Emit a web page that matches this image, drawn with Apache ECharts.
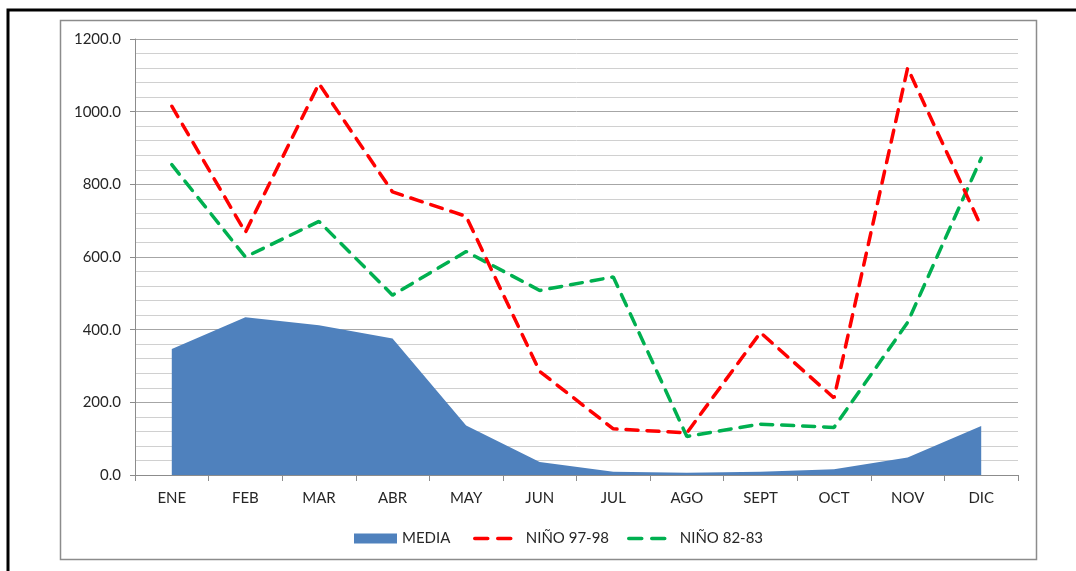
<!DOCTYPE html>
<html>
<head>
<meta charset="utf-8">
<title>Precipitación mensual</title>
<script src="https://cdn.jsdelivr.net/npm/echarts@6/dist/echarts.min.js"></script>
<style>
  html, body { margin: 0; padding: 0; background: #ffffff; }
  #chart { width: 1076px; height: 571px; }
</style>
</head>
<body>
<div id="chart"></div>
<script>
// Months (Spanish abbreviations)
const months = ['ENE', 'FEB', 'MAR', 'ABR', 'MAY', 'JUN', 'JUL', 'AGO', 'SEPT', 'OCT', 'NOV', 'DIC'];

// Monthly mean (area)
const media = [347, 434, 412, 376, 136, 36, 9, 6, 9, 16, 48, 135];

// El Niño 1997-98
const nino9798 = [1015, 668, 1077, 779, 712, 285, 127, 116, 392, 212, 1120, 684];

// El Niño 1982-83
const nino8283 = [854, 600, 698, 495, 615, 508, 545, 106, 140, 131, 420, 872];

const seriesNames = ['MEDIA', 'NIÑO 97-98', 'NIÑO 82-83'];

const labelFont = { fontFamily: 'Lato, "Liberation Sans", sans-serif', fontSize: 15, color: '#262626' };
const dashPattern = [12, 9];
// two dashes, then a long gap so the legend key shows "— —"
const legendDash = [13, 10, 13, 100];

const chart = echarts.init(document.getElementById('chart'), null, { renderer: 'canvas' });

function lineLegend(name, color, left) {
  return {
    data: [{
      name: name,
      itemStyle: { opacity: 0 },
      lineStyle: { color: color, width: 3.5, type: legendDash, opacity: 1 }
    }],
    left: left, top: 526,
    itemWidth: 46, itemHeight: 10,
    textStyle: labelFont
  };
}

chart.setOption({
  backgroundColor: '#ffffff',
  animation: false,
  grid: { left: 135, right: 58, top: 39, bottom: 96, containLabel: false },
  xAxis: {
    type: 'category',
    data: months,
    boundaryGap: true,
    axisLine: { show: true, lineStyle: { color: '#8c8c8c', width: 1 } },
    axisTick: { show: true, length: 6, inside: false, alignWithLabel: false, lineStyle: { color: '#8c8c8c' } },
    axisLabel: Object.assign({ margin: 16 }, labelFont),
    splitLine: { show: false }
  },
  yAxis: {
    type: 'value',
    min: 0,
    max: 1200,
    interval: 200,
    axisLine: { show: true, lineStyle: { color: '#8c8c8c', width: 1 } },
    axisTick: { show: true, length: 5, lineStyle: { color: '#8c8c8c' } },
    axisLabel: Object.assign({ margin: 14, formatter: v => v.toFixed(1) }, labelFont),
    splitLine: { show: true, lineStyle: { color: '#a6a6a6', width: 1 } },
    minorTick: { show: false, splitNumber: 5 },
    minorSplitLine: { show: true, lineStyle: { color: '#d0d0d0', width: 1 } }
  },
  legend: [
    {
      data: [{ name: seriesNames[0], icon: 'rect' }],
      left: 349, top: 526,
      itemWidth: 43, itemHeight: 10,
      textStyle: labelFont
    },
    lineLegend(seriesNames[1], '#ff0000', 468),
    lineLegend(seriesNames[2], '#00b050', 622)
  ],
  series: [
    {
      name: seriesNames[0],
      type: 'line',
      data: media,
      symbol: 'none',
      itemStyle: { color: '#4f81bd' },
      lineStyle: { width: 0, color: '#4f81bd' },
      areaStyle: { color: '#4f81bd', opacity: 1 },
      z: 1
    },
    {
      name: seriesNames[1],
      type: 'line',
      data: nino9798,
      symbol: 'none',
      itemStyle: { color: '#ff0000' },
      lineStyle: { width: 3.5, color: '#ff0000', type: dashPattern, cap: 'round' },
      z: 3
    },
    {
      name: seriesNames[2],
      type: 'line',
      data: nino8283,
      symbol: 'none',
      itemStyle: { color: '#00b050' },
      lineStyle: { width: 3.5, color: '#00b050', type: dashPattern, cap: 'round' },
      z: 2
    }
  ],
  graphic: [
    {
      type: 'rect',
      silent: true,
      shape: { x: 60.5, y: 20.5, width: 976, height: 539 },
      style: { fill: 'none', stroke: '#8c8c8c', lineWidth: 1.5 }
    },
    {
      type: 'rect',
      silent: true,
      shape: { x: 8, y: 10, width: 1200, height: 700 },
      style: { fill: 'none', stroke: '#000000', lineWidth: 3 }
    }
  ]
});
</script>
</body>
</html>
